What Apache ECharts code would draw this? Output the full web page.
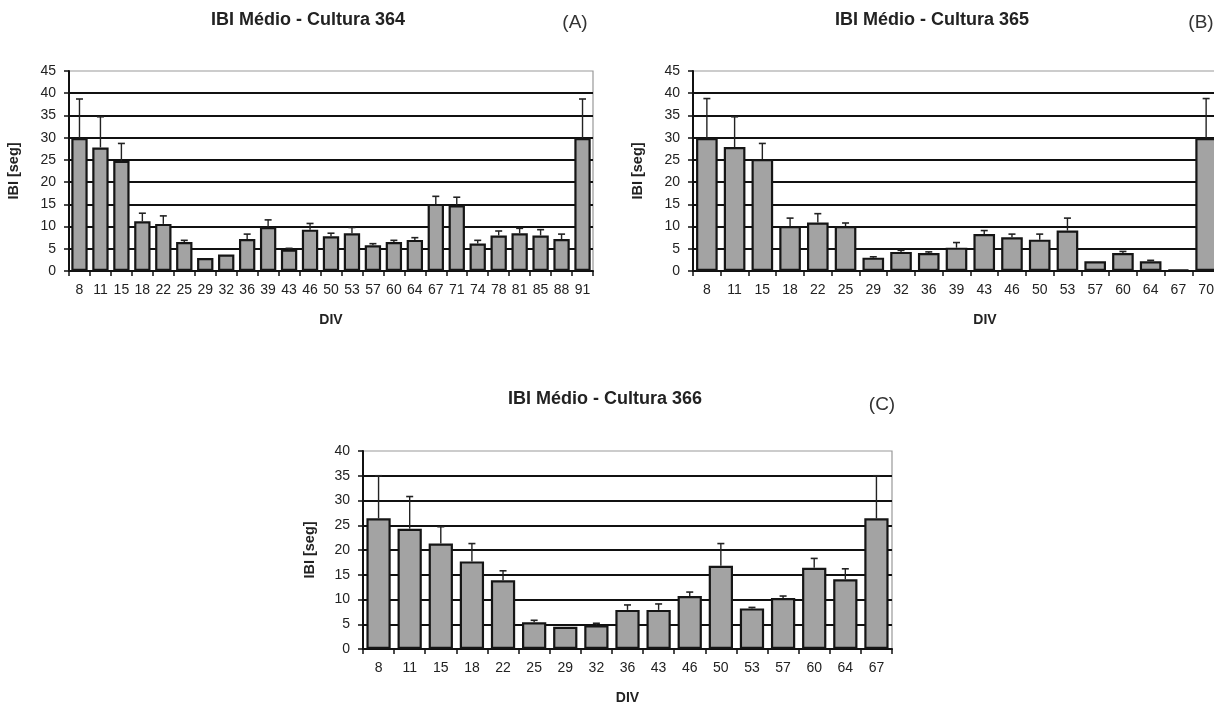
<!DOCTYPE html>
<html><head><meta charset="utf-8">
<script src="https://cdn.jsdelivr.net/npm/echarts@6/dist/echarts.min.js"></script>
<style>html,body{margin:0;padding:0;background:#fff;overflow:hidden;width:1214px;height:704px}#c{width:1240px;height:704px}</style>
</head><body><div id="c"></div>
<script>
// Chart A – Cultura 364
const catsA = ['8','11','15','18','22','25','29','32','36','39','43','46','50','53','57','60','64','67','71','74','78','81','85','88','91'];
const valsA = [29.9,27.8,24.8,11.2,10.6,6.5,2.9,3.7,7.2,9.9,4.8,9.3,7.8,8.5,5.8,6.5,7.0,15.1,14.8,6.2,8.0,8.5,8.0,7.2,29.9];
const errA  = [38.7,34.7,28.7,13.0,12.4,6.9,null,null,8.3,11.5,5.1,10.7,8.5,9.8,6.15,6.9,7.5,16.8,16.6,6.9,9.0,9.6,9.3,8.3,38.7];
// Chart B – Cultura 365
const catsB = ['8','11','15','18','22','25','29','32','36','39','43','46','50','53','57','60','64','67','70'];
const valsB = [29.9,27.9,25.2,10.1,10.9,10.1,3.0,4.3,4.05,5.25,8.3,7.6,7.05,9.1,2.2,4.05,2.2,0.3,29.9];
const errB  = [38.8,34.7,28.7,11.9,12.9,10.8,3.2,4.65,4.3,6.4,9.1,8.3,8.3,11.9,null,4.4,2.4,null,38.8];
// Chart C – Cultura 366
const catsC = ['8','11','15','18','22','25','29','32','36','43','46','50','53','57','60','64','67'];
const valsC = [26.4,24.3,21.3,17.7,13.9,5.4,4.5,4.8,7.9,7.9,10.7,16.8,8.2,10.3,16.4,14.1,26.4];
const errC  = [35.0,30.8,24.7,21.3,15.8,5.8,null,5.2,8.9,9.1,11.5,21.3,8.4,10.7,18.3,16.2,35.0];
const yTicksA = {min:0, max:45, interval:5};
const yTicksB = {min:0, max:45, interval:5};
const yTicksC = {min:0, max:40, interval:5};

const FONT = '"Liberation Sans", Arial, sans-serif';
const chart = echarts.init(document.getElementById('c'));

function xAxis(cats, gi, showName, margin){
  return {type:'category', gridIndex:gi, data:cats,
    name: showName ? 'DIV' : '', nameLocation:'middle', nameGap:42,
    nameTextStyle:{fontFamily:FONT, fontWeight:'bold', fontSize:14, color:'#222'},
    axisLine:{lineStyle:{color:'#111', width:2}},
    axisTick:{show:true, alignWithLabel:false, length:5, lineStyle:{color:'#111', width:1.5}},
    axisLabel:{fontFamily:FONT, fontSize:14, color:'#222', margin:margin, interval:0},
    splitLine:{show:false}};
}
function yAxis(t, gi, gap){
  return {type:'value', gridIndex:gi, min:t.min, max:t.max, interval:t.interval,
    name:'IBI [seg]', nameLocation:'middle', nameGap:gap,
    nameTextStyle:{fontFamily:FONT, fontWeight:'bold', fontSize:14.5, color:'#222'},
    axisLine:{show:true, lineStyle:{color:'#111', width:2}},
    axisTick:{show:true, length:5, lineStyle:{color:'#111', width:1.5}},
    axisLabel:{fontFamily:FONT, fontSize:14, color:'#222', margin:13},
    splitLine:{show:true, showMinLine:false, showMaxLine:false, lineStyle:{color:'#111', width:2}}};
}
function bars(vals, gi){
  return {type:'bar', xAxisIndex:gi, yAxisIndex:gi, data:vals, barCategoryGap:'22%',
    itemStyle:{color:'#a3a3a3', borderColor:'#151515', borderWidth:2.2}, silent:true, z:2};
}
function errs(vals, tops, gi){
  return {type:'custom', xAxisIndex:gi, yAxisIndex:gi, z:3, silent:true,
    data: vals.map((v,i)=>[i, v, tops[i]==null ? v : tops[i]]),
    encode:{x:0, y:1},
    renderItem:function(params, api){
      const i = api.value(0), v = api.value(1), t = api.value(2);
      if (!(t > v)) return;
      const p0 = api.coord([i, v]), p1 = api.coord([i, t]);
      return {type:'group', children:[
        {type:'line', shape:{x1:p0[0], y1:p0[1], x2:p1[0], y2:p1[1]}, style:{stroke:'#222', lineWidth:1.4}},
        {type:'line', shape:{x1:p1[0]-3.5, y1:p1[1], x2:p1[0]+3.5, y2:p1[1]}, style:{stroke:'#222', lineWidth:1.6}}
      ]};
    }};
}
function txt(x, y, s, bold, size, color){
  return {type:'text', x:x, y:y, style:{text:s, fill:color||'#222', font:(bold?'bold ':'')+size+'px '+FONT, textAlign:'center', textVerticalAlign:'middle'}};
}
const gridBase = {show:true, borderColor:'#999', borderWidth:1.2, containLabel:false, outerBoundsMode:'none'};

chart.setOption({
  animation:false,
  grid:[
    Object.assign({left:69, top:71, width:524, height:200}, gridBase),
    Object.assign({left:693, top:71, width:527, height:200}, gridBase),
    Object.assign({left:363, top:451, width:529, height:198}, gridBase)
  ],
  xAxis:[xAxis(catsA,0,true,12), xAxis(catsB,1,false,12), xAxis(catsC,2,true,12)],
  yAxis:[yAxis(yTicksA,0,48), yAxis(yTicksB,1,48), yAxis(yTicksC,2,46)],
  series:[bars(valsA,0), errs(valsA,errA,0), bars(valsB,1), errs(valsB,errB,1), bars(valsC,2), errs(valsC,errC,2)],
  graphic:[
    txt(308, 20, 'IBI Médio - Cultura 364', true, 18),
    txt(575, 23, '(A)', false, 19, '#333'),
    txt(932, 20, 'IBI Médio - Cultura 365', true, 18),
    txt(1201, 23, '(B)', false, 19, '#333'),
    txt(605, 399, 'IBI Médio - Cultura 366', true, 18),
    txt(882, 405, '(C)', false, 19, '#333'),
    txt(985, 320, 'DIV', true, 14)
  ]
});
</script></body></html>
